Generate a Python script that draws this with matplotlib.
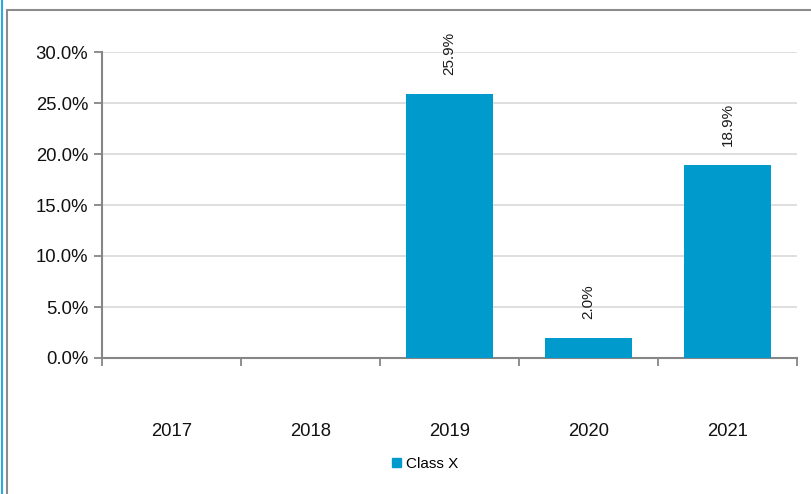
import numpy as np
import matplotlib.pyplot as plt
from matplotlib.patches import Patch, Rectangle
from matplotlib.lines import Line2D
from matplotlib.ticker import FuncFormatter

plt.rcParams['font.family'] = ['Liberation Sans', 'DejaVu Sans']

# donnees
years = ['2017', '2018', '2019', '2020', '2021']
values = [0.0, 0.0, 25.9, 2.0, 18.9]
shown = [False, False, True, True, True]  # 2017/2018 sans valeur
series_name = 'Class X'

bar_color = '#009ACD'
axis_gray = '#868686'
grid_gray = '#D9D9D9'

W, H = 811, 494
fig = plt.figure(figsize=(W / 100, H / 100), dpi=100)
ax = fig.add_axes([102 / W, 1 - 358 / H, (797 - 102) / W, (358 - 52) / H])

x = np.arange(len(years))
ax.bar(x, values, width=0.62, color=bar_color, zorder=3)

# etiquettes de valeur, verticales
for xi, v, s in zip(x, values, shown):
    if s:
        ax.annotate('%.1f%%' % v, (xi, v), xytext=(0, 13.5), textcoords='offset points',
                    rotation=90, ha='center', va='bottom', fontsize=11, color='#1a1a1a')

ax.set_xlim(-0.5, len(years) - 0.5)
ax.set_ylim(0, 30)
ax.set_yticks(np.arange(0, 31, 5))
ax.yaxis.set_major_formatter(FuncFormatter(lambda v, p: '%.1f%%' % v))
ax.yaxis.grid(True, color=grid_gray, linewidth=1.2, zorder=0)

ax.set_xticks(x)
ax.set_xticklabels(years)
ax.set_xticks(np.arange(-0.5, len(years)), minor=True)
ax.tick_params(axis='x', which='major', length=0, pad=47, labelsize=13.3, colors='#111111')
ax.tick_params(axis='x', which='minor', length=6, width=1.3, color=axis_gray)
ax.tick_params(axis='y', length=6, width=1.3, color=axis_gray, labelsize=13.3,
               labelcolor='#111111', pad=4)

for side in ['top', 'right']:
    ax.spines[side].set_visible(False)
for side in ['left', 'bottom']:
    ax.spines[side].set_color(axis_gray)
    ax.spines[side].set_linewidth(1.5)

# legende
fig.legend(handles=[Patch(color=bar_color, label=series_name)], loc='center',
           bbox_to_anchor=(425 / W, 1 - 464 / H), frameon=False, fontsize=11,
           handlelength=0.6, handleheight=0.6, handletextpad=0.3)

# cadres
fig.add_artist(Rectangle((7 / W, -0.1), 1.2, 1 - 10 / H + 0.1, transform=fig.transFigure,
                         fill=False, edgecolor='#8C8C8C', linewidth=1.5))
fig.add_artist(Line2D([2 / W, 2 / W], [0, 1], transform=fig.transFigure,
                      color='#29ABE2', linewidth=1.5))

fig.savefig('out.png', dpi=100)
